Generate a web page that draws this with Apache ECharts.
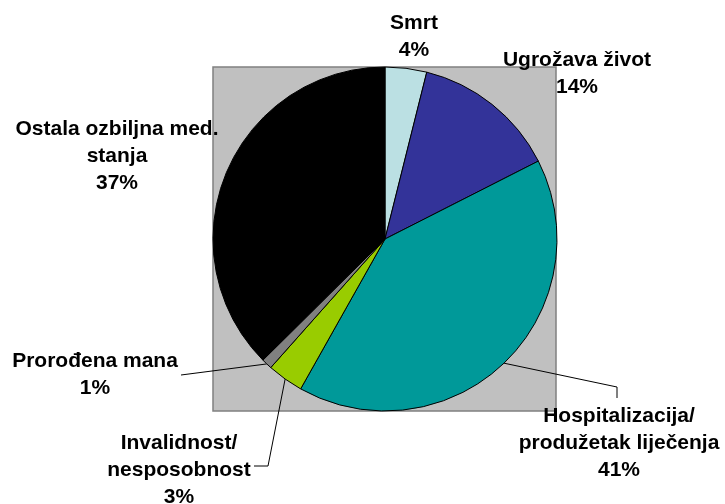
<!DOCTYPE html>
<html>
<head>
<meta charset="utf-8">
<script src="https://cdn.jsdelivr.net/npm/echarts@6/dist/echarts.min.js"></script>
<style>
  html, body { margin: 0; padding: 0; background: #fff; }
  #chart { width: 725px; height: 504px; }
</style>
</head>
<body>
<div id="chart"></div>
<script>
// kategorije i vrijednosti (postotci)
var categories = [
  'Smrt',
  'Ugrožava život',
  'Hospitalizacija/\nprodužetak liječenja',
  'Invalidnost/\nnesposobnost',
  'Prorođena mana',
  'Ostala ozbiljna med.\nstanja'
]
var values = [3.9, 13.6, 40.6, 3.4, 1.0, 37.4]
var colors = ['#BBE0E3', '#333399', '#009999', '#99CC00', '#808080', '#000000']
var showLine = [false, false, true, true, true, false]

// gdje stoje natpisi (sredina bloka teksta)
var labelPos = [[414, 37], [577, 74], [619, 443], [179, 470], [95, 375], [117, 156]]

var chart = echarts.init(document.getElementById('chart'))

var pieData = categories.map(function (name, i) {
  return {
    name: name,
    value: values[i],
    itemStyle: { color: colors[i] },
    labelLine: { show: showLine[i] }
  }
})

var option = {
  animation: false,
  backgroundColor: '#ffffff',
  graphic: [
    {
      type: 'rect',
      z: -10,
      shape: { x: 213, y: 67, width: 343, height: 344 },
      style: { fill: '#C0C0C0', stroke: '#808080', lineWidth: 1.5 }
    }
  ],
  series: [
    {
      type: 'pie',
      center: [385, 239],
      radius: 172,
      startAngle: 90,
      clockwise: true,
      avoidLabelOverlap: false,
      emphasis: { disabled: true },
      itemStyle: { borderColor: '#000', borderWidth: 1 },
      label: {
        position: 'outside',
        fontFamily: 'Liberation Sans',
        fontWeight: 'bold',
        fontSize: 21,
        lineHeight: 27,
        color: '#000',
        align: 'center',
        formatter: function (p) {
          return p.name + '\n' + Math.round(p.percent) + '%'
        }
      },
      labelLine: {
        lineStyle: { color: '#000', width: 1 },
        smooth: false
      },
      labelLayout: function (params) {
        var i = params.dataIndex
        var out = {
          x: labelPos[i][0],
          y: labelPos[i][1],
          align: 'center',
          verticalAlign: 'middle'
        }
        var p0 = params.labelLinePoints ? params.labelLinePoints[0] : null
        if (p0) {
          if (i === 2) out.labelLinePoints = [p0, [617, 387], [617, 398]]
          if (i === 3) out.labelLinePoints = [p0, [268, 466], [254, 466]]
          if (i === 4) out.labelLinePoints = [p0, [181, 375], [181, 375]]
        }
        return out
      },
      data: pieData
    }
  ]
}

chart.setOption(option)
</script>
</body>
</html>
